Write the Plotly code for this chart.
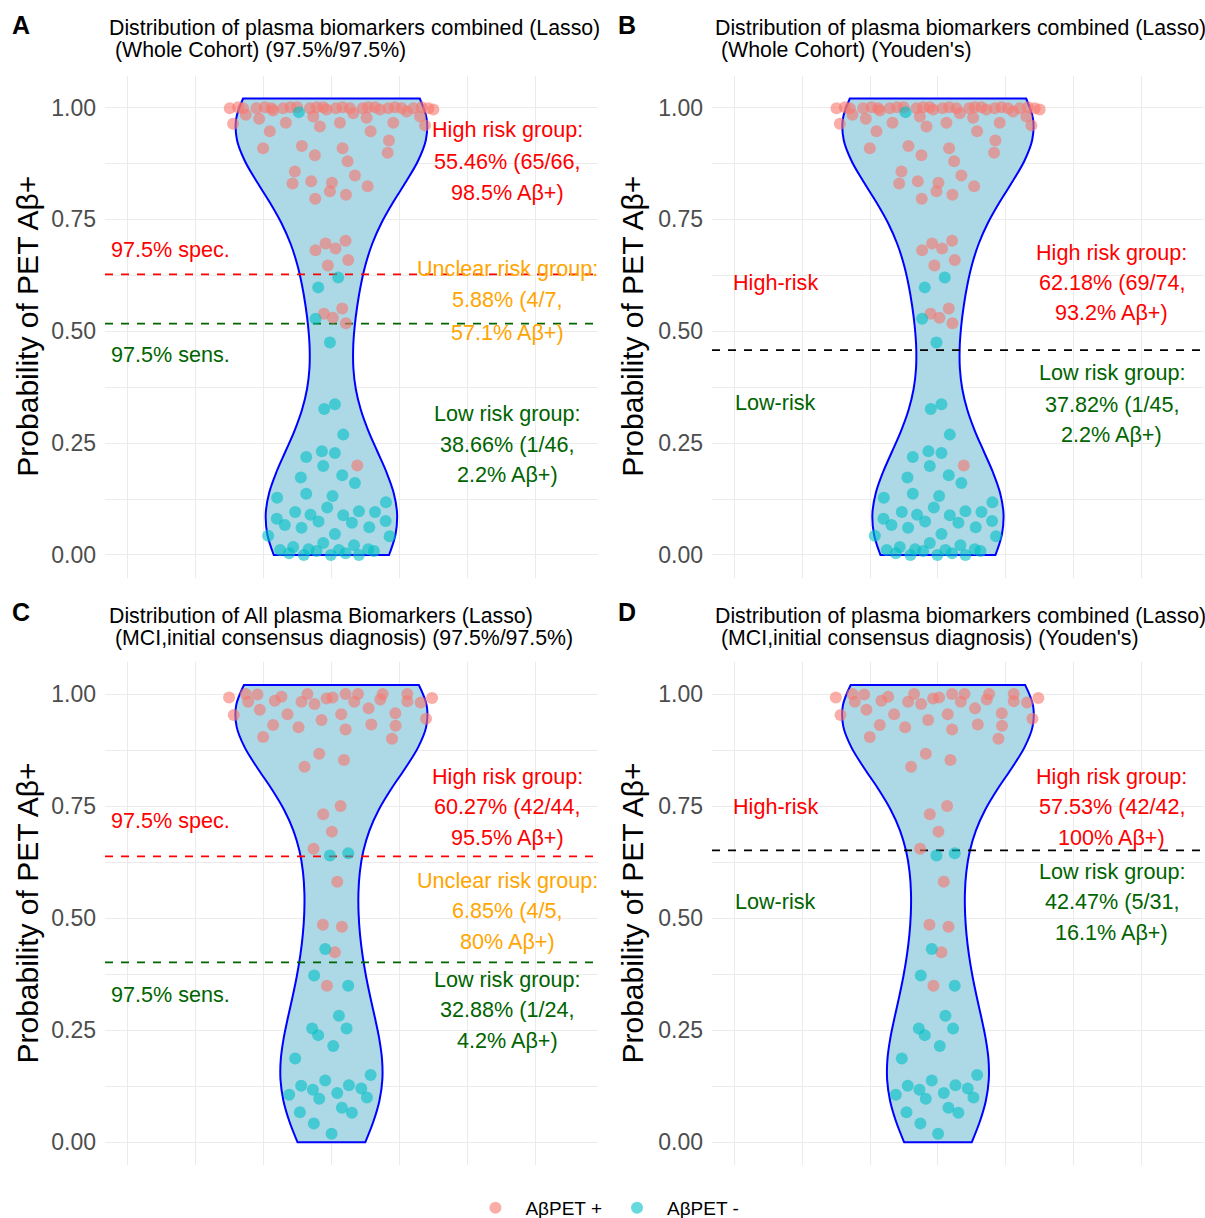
import numpy as np
import plotly.graph_objects as go

# ---------------- data ----------------
# Whole cohort: jittered x offset (grid units, violin centre = 0) and predicted probability
wc_pos_x = [-1.493, -1.370, -1.297, -1.258, -1.101, -1.061, -0.978, -0.880, -0.856, -0.709,
            -0.669, -0.601, -0.503, -0.316, -0.267, -0.218, -0.120, -0.071, 0.066, 0.125,
            0.164, 0.272, 0.321, 0.458, 0.517, 0.541, 0.640, 0.713, 0.836, 0.909,
            0.934, 1.032, 1.105, 1.203, 1.301, 1.326, 1.424, 1.497, -1.444, 1.375,
            -0.169, -0.905, 0.576, 0.845, 0.826, -1.003, -0.434, -0.243, 0.164, 0.238,
            -0.537, -0.571, -0.297, 0.007, -0.022, -0.238, 0.213, 0.345, 0.532, -0.233,
            -0.086, 0.061, 0.208, -0.052, 0.247, -0.110, 0.022, 0.159, 0.213, 0.380]
wc_pos_y = [0.9985, 1.0007, 0.9985, 0.9836, 0.9985, 0.9747, 1.0007, 0.9985, 0.9933, 0.9985,
            0.9658, 1.0007, 1.0007, 0.9985, 0.9800, 1.0007, 1.0007, 0.9955, 0.9985, 0.9658,
            1.0007, 0.9985, 0.9873, 0.9985, 0.9770, 1.0007, 1.0007, 0.9955, 0.9985, 0.9658,
            1.0007, 0.9985, 0.9910, 0.9985, 0.9800, 1.0007, 0.9985, 0.9955, 0.9635, 0.9600,
            0.9576, 0.9470, 0.9470, 0.9260, 0.8990, 0.9090, 0.9140, 0.8930, 0.9090, 0.8800,
            0.8570, 0.8300, 0.8350, 0.8320, 0.8130, 0.7960, 0.8050, 0.8480, 0.8240, 0.6810,
            0.6960, 0.6850, 0.7020, 0.6470, 0.6590, 0.5390, 0.5300, 0.5510, 0.5180, 0.2000]
wc_neg_x = [-0.478, 0.100, -0.194, -0.233, -0.022, -0.106, 0.051, 0.174, -0.370, -0.140,
            0.051, -0.120, -0.449, 0.159, 0.345, -0.797, -0.370, 0.017, -0.061, 0.801,
            -0.532, -0.307, -0.189, 0.174, 0.404, 0.640, -0.802, -0.684, -0.439, 0.301,
            0.556, 0.796, -0.929, 0.051, 0.855, -0.120, 0.331, -0.753, -0.561, -0.620,
            -0.405, -0.336, -0.218, -0.008, 0.110, 0.208, 0.404, 0.541, 0.625]
wc_neg_y = [0.9896, 0.620, 0.598, 0.528, 0.475, 0.326, 0.337, 0.269, 0.219, 0.232,
            0.228, 0.199, 0.173, 0.178, 0.161, 0.128, 0.137, 0.132, 0.106, 0.118,
            0.096, 0.090, 0.075, 0.089, 0.098, 0.096, 0.081, 0.067, 0.061, 0.072,
            0.062, 0.076, 0.043, 0.047, 0.042, 0.027, 0.022, 0.011, 0.018, 0.004,
            0.000, 0.013, 0.009, 0.000, 0.011, 0.004, 0.000, 0.013, 0.009]

# MCI (initial consensus diagnosis)
mci_pos_x = [-1.503, -1.258, -1.223, -1.086, -1.052, -0.831, -0.733, -0.645, -0.856, -1.003,
             -0.483, -0.439, -0.351, -0.248, -0.145, -0.071, 0.017, 0.144, 0.208, 0.208,
             0.336, 0.390, 0.546, 0.586, 0.718, 0.752, 0.939, 0.943, 0.890, 1.115,
             1.115, 1.311, 1.390, 1.478, -1.434, -0.179, 0.184, -0.395, 0.135, -0.120,
             0.007, -0.262, 0.086, -0.125, 0.154, 0.051, -0.066]
mci_pos_y = [0.992, 1.000, 0.983, 0.999, 0.965, 0.985, 0.994, 0.955, 0.931, 0.904,
             0.926, 0.983, 1.000, 0.978, 0.942, 0.990, 0.992, 0.955, 1.000, 0.921,
             0.983, 1.000, 0.968, 0.932, 0.988, 1.000, 0.957, 0.929, 0.900, 1.000,
             0.984, 0.981, 0.945, 0.991, 0.953, 0.867, 0.853, 0.838, 0.750, 0.732,
             0.693, 0.655, 0.581, 0.485, 0.481, 0.424, 0.349]
mci_neg_x = [-0.022, 0.247, -0.091, -0.253, 0.247, 0.110, -0.282, -0.194, 0.223, 0.027,
             -0.532, 0.576, -0.091, -0.444, 0.257, -0.272, -0.620, -0.179, 0.086, 0.439,
             0.522, 0.154, 0.301, -0.463, -0.258, 0.002]
mci_neg_y = [0.640, 0.645, 0.431, 0.372, 0.349, 0.282, 0.254, 0.239, 0.254, 0.215,
             0.187, 0.150, 0.138, 0.126, 0.127, 0.117, 0.106, 0.097, 0.110, 0.120,
             0.100, 0.077, 0.066, 0.067, 0.042, 0.019]

y_tick_vals = [0, 0.25, 0.5, 0.75, 1.0]
y_tick_text = ["0.00", "0.25", "0.50", "0.75", "1.00"]
legend_names = ["AβPET +", "AβPET -"]

# cut-offs
cut_A = {"spec": 0.627, "sens": 0.517}
cut_B = 0.458
cut_C = {"spec": 0.638, "sens": 0.4015}
cut_D = 0.651

FONT = "Liberation Sans, Arial, Helvetica, sans-serif"
RED, ORANGE, GREEN = "#FF0000", "#FFA500", "#006400"
W, H = 1205, 1218
XR = [-3.325, 3.915]
YR = [-0.0505, 1.071]
ANN_SIZE = 21.6
TITLE_SIZE = 21.3

panels = [
    dict(ax="", tag="A", xpx=105, xdom=[105 / W, 598 / W], ydom=[0.52578, 0.93785],
         data=(wc_pos_x, wc_pos_y, wc_neg_x, wc_neg_y),
         lines=[(cut_A["spec"], RED), (cut_A["sens"], GREEN)],
         titles=[("Distribution of plasma biomarkers combined (Lasso)", 107, 28),
                 ("(Whole Cohort) (97.5%/97.5%)", 113, 50)],
         texts=[("High risk group:", 2.58, 0.950, RED), ("55.46% (65/66,", 2.58, 0.880, RED),
                ("98.5% Aβ+)", 2.58, 0.811, RED),
                ("Unclear risk group:", 2.58, 0.641, ORANGE), ("5.88% (4/7,", 2.58, 0.570, ORANGE),
                ("57.1% Aβ+)", 2.58, 0.498, ORANGE),
                ("Low risk group:", 2.58, 0.317, GREEN), ("38.66% (1/46,", 2.58, 0.248, GREEN),
                ("2.2% Aβ+)", 2.58, 0.179, GREEN)],
         left=[("97.5% spec.", 0.682, RED), ("97.5% sens.", 0.449, GREEN)]),
    dict(ax="2", tag="B", xpx=712, xdom=[712 / W, 1204 / W], ydom=[0.52578, 0.93785],
         data=(wc_pos_x, wc_pos_y, wc_neg_x, wc_neg_y),
         lines=[(cut_B, "#000000")],
         titles=[("Distribution of plasma biomarkers combined (Lasso)", 713, 28),
                 ("(Whole Cohort) (Youden's)", 719, 50)],
         texts=[("High-risk", -2.39, 0.610, RED), ("Low-risk", -2.39, 0.340, GREEN),
                ("High risk group:", 2.56, 0.677, RED), ("62.18% (69/74,", 2.56, 0.608, RED),
                ("93.2% Aβ+)", 2.56, 0.541, RED),
                ("Low risk group:", 2.56, 0.407, GREEN), ("37.82% (1/45,", 2.56, 0.337, GREEN),
                ("2.2% Aβ+)", 2.56, 0.270, GREEN)],
         left=[]),
    dict(ax="3", tag="C", xpx=105, xdom=[105 / W, 598 / W], ydom=[0.04360, 0.45632],
         data=(mci_pos_x, mci_pos_y, mci_neg_x, mci_neg_y),
         lines=[(cut_C["spec"], RED), (cut_C["sens"], GREEN)],
         titles=[("Distribution of All plasma Biomarkers (Lasso)", 107, 616),
                 ("(MCI,initial consensus diagnosis) (97.5%/97.5%)", 113, 638)],
         texts=[("High risk group:", 2.58, 0.815, RED), ("60.27% (42/44,", 2.58, 0.748, RED),
                ("95.5% Aβ+)", 2.58, 0.679, RED),
                ("Unclear risk group:", 2.58, 0.585, ORANGE), ("6.85% (4/5,", 2.58, 0.516, ORANGE),
                ("80% Aβ+)", 2.58, 0.449, ORANGE),
                ("Low risk group:", 2.58, 0.364, GREEN), ("32.88% (1/24,", 2.58, 0.297, GREEN),
                ("4.2% Aβ+)", 2.58, 0.228, GREEN)],
         left=[("97.5% spec.", 0.717, RED), ("97.5% sens.", 0.329, GREEN)]),
    dict(ax="4", tag="D", xpx=712, xdom=[712 / W, 1204 / W], ydom=[0.04360, 0.45632],
         data=(mci_pos_x, mci_pos_y, mci_neg_x, mci_neg_y),
         lines=[(cut_D, "#000000")],
         titles=[("Distribution of plasma biomarkers combined (Lasso)", 713, 616),
                 ("(MCI,initial consensus diagnosis) (Youden's)", 719, 638)],
         texts=[("High-risk", -2.39, 0.748, RED), ("Low-risk", -2.39, 0.538, GREEN),
                ("High risk group:", 2.56, 0.815, RED), ("57.53% (42/42,", 2.56, 0.748, RED),
                ("100% Aβ+)", 2.56, 0.679, RED),
                ("Low risk group:", 2.56, 0.605, GREEN), ("42.47% (5/31,", 2.56, 0.538, GREEN),
                ("16.1% Aβ+)", 2.56, 0.469, GREEN)],
         left=[]),
]


def nrd0(v):
    v = np.asarray(v, float)
    q75, q25 = np.percentile(v, [75, 25])
    return 0.9 * min(np.std(v, ddof=1), (q75 - q25) / 1.34) * len(v) ** (-0.2)


fig = go.Figure()
annotations = []
layout = {}

for i, p in enumerate(panels):
    xa, ya = "x" + p["ax"], "y" + p["ax"]
    px_, py_, nx_, ny_ = p["data"]
    yall = list(py_) + list(ny_)
    fig.add_trace(go.Violin(
        x=[0] * len(yall), y=yall, xaxis=xa, yaxis=ya,
        spanmode="manual", span=[0, 1.02], bandwidth=nrd0(yall),
        width=2.8, scalemode="width", points=False,
        fillcolor="#ADD8E6", line=dict(color="#0000FF", width=2),
        opacity=1, showlegend=False, hoverinfo="skip"))
    for (t, c) in p["lines"]:
        fig.add_trace(go.Scatter(
            x=XR, y=[t, t], xaxis=xa, yaxis=ya, mode="lines",
            line=dict(color=c, width=1.8, dash="8px,8px"),
            showlegend=False, hoverinfo="skip"))
    fig.add_trace(go.Scatter(
        x=px_, y=py_, xaxis=xa, yaxis=ya, mode="markers", name=legend_names[0],
        legendgroup="pos", showlegend=(i == 0),
        marker=dict(color="#F8766D", size=12, opacity=0.6, line=dict(width=0))))
    fig.add_trace(go.Scatter(
        x=nx_, y=ny_, xaxis=xa, yaxis=ya, mode="markers", name=legend_names[1],
        legendgroup="neg", showlegend=(i == 0),
        marker=dict(color="#00BFC4", size=12, opacity=0.6, line=dict(width=0))))

    key = "xaxis" + p["ax"]
    layout[key] = dict(domain=p["xdom"], range=XR, anchor=ya, showticklabels=False,
                       tick0=0, dtick=1, showgrid=True, gridcolor="#EBEBEB", gridwidth=1.1,
                       zeroline=False, showline=False, ticks="", fixedrange=True)
    layout["yaxis" + p["ax"]] = dict(
        domain=p["ydom"], range=YR, anchor=xa, tickmode="array",
        tickvals=y_tick_vals, ticktext=y_tick_text,
        tickfont=dict(family=FONT, size=23, color="#4D4D4D"),
        showgrid=True, gridcolor="#EBEBEB", gridwidth=1.1, zeroline=False, showline=False,
        ticks="", ticklabelstandoff=8, automargin=False,
        minor=dict(tickvals=[0.125, 0.375, 0.625, 0.875], showgrid=True,
                   gridcolor="#EBEBEB", gridwidth=0.6, ticks=""))

    for (txt, x, y, c) in p["texts"]:
        annotations.append(dict(text=txt, x=x, y=y, xref=xa, yref=ya, showarrow=False,
                                xanchor="center", yanchor="middle",
                                font=dict(family=FONT, size=ANN_SIZE, color=c)))
    for (txt, y, c) in p["left"]:
        annotations.append(dict(text=txt, x=-3.26, y=y, xref=xa, yref=ya, showarrow=False,
                                xanchor="left", yanchor="middle",
                                font=dict(family=FONT, size=ANN_SIZE, color=c)))
    for (txt, tx, ty) in p["titles"]:
        annotations.append(dict(text=txt, x=tx / W, y=1 - ty / H, xref="paper", yref="paper",
                                showarrow=False, xanchor="left", yanchor="middle",
                                font=dict(family=FONT, size=TITLE_SIZE, color="#000000")))
    tag_x = 21 if p["xpx"] < 600 else 627
    tag_y = 25 if p["ydom"][0] > 0.5 else 612
    annotations.append(dict(text="<b>" + p["tag"] + "</b>", x=tag_x / W, y=1 - tag_y / H,
                            xref="paper", yref="paper", showarrow=False,
                            xanchor="center", yanchor="middle",
                            font=dict(family=FONT, size=25, color="#000000")))
    yc = (p["ydom"][0] + p["ydom"][1]) / 2
    axt_x = 28 if p["xpx"] < 600 else 633
    annotations.append(dict(text="Probability of PET Aβ+", x=axt_x / W, y=yc,
                            xref="paper", yref="paper", showarrow=False, textangle=-90,
                            xanchor="center", yanchor="middle",
                            font=dict(family=FONT, size=30, color="#000000")))

fig.update_layout(
    width=W, height=H, autosize=False,
    margin=dict(l=0, r=0, t=0, b=0, pad=0, autoexpand=False),
    paper_bgcolor="white", plot_bgcolor="white",
    font=dict(family=FONT),
    annotations=annotations,
    legend=dict(orientation="h", x=0.502, xanchor="center", y=1 - 1208 / H, yanchor="middle",
                font=dict(family=FONT, size=19, color="#000000"), itemsizing="trace",
                itemwidth=50, bgcolor="rgba(0,0,0,0)"),
    **layout)

fig.write_html(
    "out.html",
    config={"displayModeBar": False},
    post_script="document.body.style.margin='0';document.body.style.padding='0';"
                "document.body.style.overflow='hidden';"
                "document.documentElement.style.overflow='hidden';")
